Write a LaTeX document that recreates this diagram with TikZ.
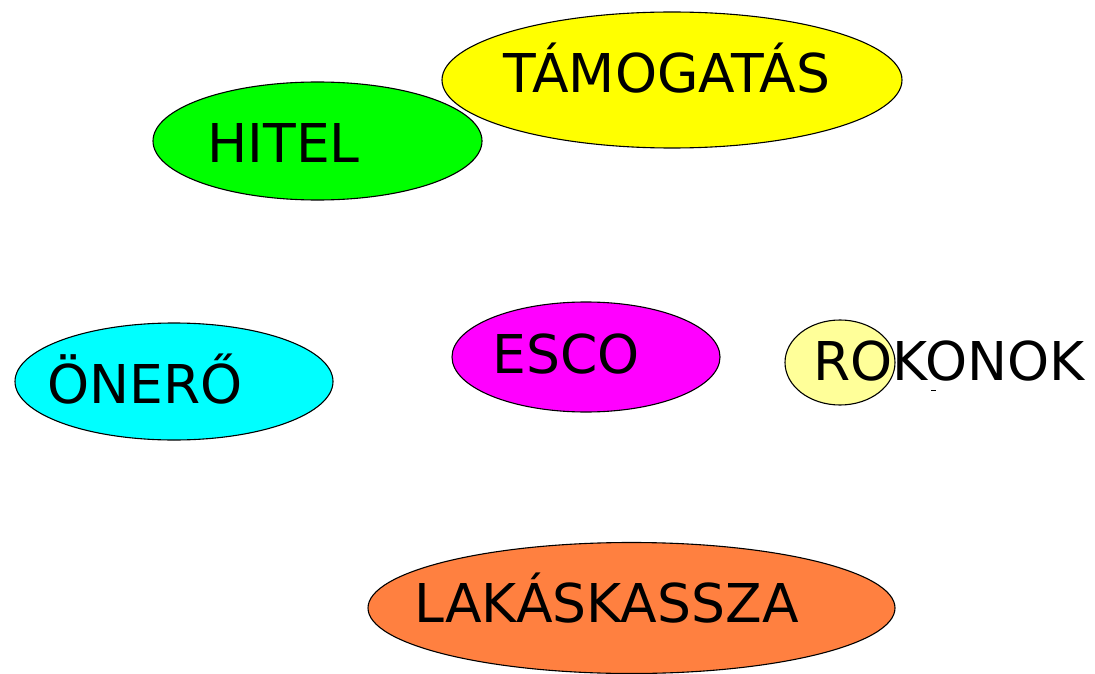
\documentclass[tikz,border=0pt]{standalone}
\usepackage{fontspec}
\setmainfont{DejaVu Sans}
\usetikzlibrary{shapes.geometric}

\definecolor{hitelgreen}{RGB}{0,255,0}
\definecolor{tamyellow}{RGB}{255,255,0}
\definecolor{onercyan}{RGB}{0,255,255}
\definecolor{escomag}{RGB}{255,0,255}
\definecolor{rokpale}{RGB}{255,255,153}
\definecolor{lakorange}{RGB}{255,128,64}

\begin{document}
\begin{tikzpicture}[x=1pt,y=-1pt,
    blob/.style={ellipse,draw=black,line width=1.1pt,inner sep=0pt},
    word/.style={anchor=base,inner sep=0pt,font=\fontsize{53.5}{60}\selectfont}]
          \useasboundingbox (0,0) rectangle (1095,674);

          % ellipses
          \node[blob,fill=hitelgreen,minimum width=329pt,minimum height=118pt] (hitelbg) at (317.5,141) {};
          \node[blob,fill=tamyellow,minimum width=460pt,minimum height=136pt] (tambg) at (672,80) {};
          \node[blob,fill=onercyan,minimum width=318pt,minimum height=117pt] (onerbg) at (174,381.5) {};
          \node[blob,fill=escomag,minimum width=268pt,minimum height=110pt] (escobg) at (586,357) {};
          \node[blob,fill=rokpale,minimum width=110pt,minimum height=85pt] (rokbg) at (840,362.5) {};
          \node[blob,fill=lakorange,minimum width=527pt,minimum height=131pt] (lakbg) at (631.5,608) {};

          % labels
          \node[word] (tam) at (667,93) {TÁMOGATÁS};
          \node[word] (hitel) at (283.5,162) {HITEL};
          \node[word] (oner) at (145,403) {ÖNERŐ};
          \node[word] (esco) at (566,373) {ESCO};
          \node[word] (rok) at (949,380) {ROKONOK};
          \node[word] (lak) at (606.5,622) {LAKÁSKASSZA};

          \coordinate (dashl) at (931,390);
          \coordinate (dashr) at (936,390);
          \draw[line width=0.8pt] (dashl) -- (dashr);
\end{tikzpicture}
\end{document}
